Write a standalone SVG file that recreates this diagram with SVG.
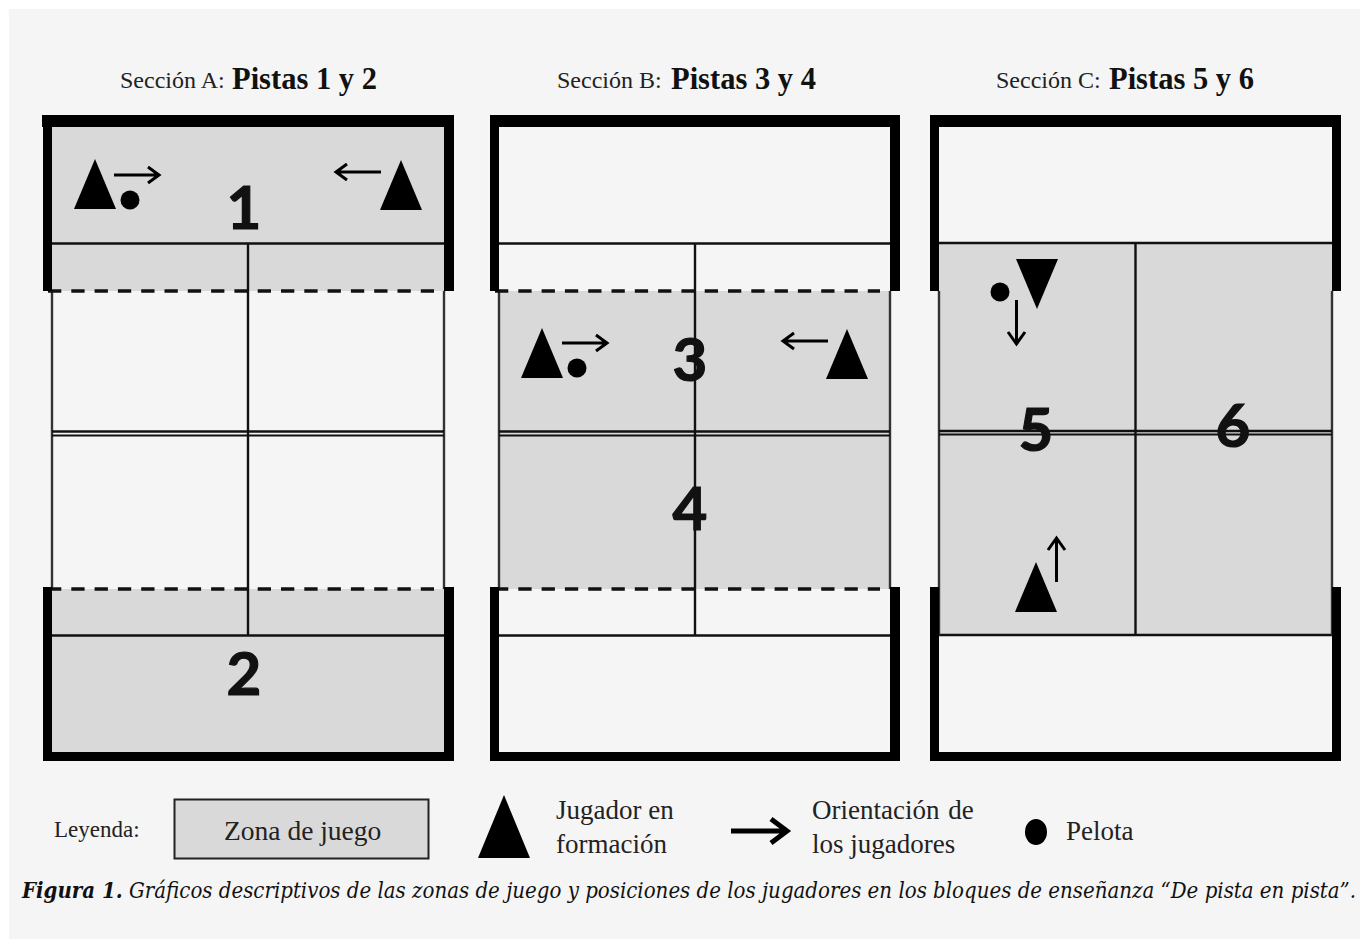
<svg xmlns="http://www.w3.org/2000/svg" width="1360" height="940" viewBox="0 0 1360 940">
<style>
.t{font-family:"Liberation Serif","Times New Roman",serif;fill:#222}
.s{font-size:24px}.h{font-size:30.500px;font-weight:bold;fill:#111}.l{font-size:27px}
.n{font-family:Lato,"Noto Sans",sans-serif;font-weight:bold;font-size:60px;fill:#111;stroke:#111;stroke-width:1.200px;text-anchor:middle}
.thin{stroke:#111;stroke-width:2.400;fill:none}
.net{stroke:#111;fill:none}
.side{stroke:#333;stroke-width:2.400;fill:none}
.dash{stroke:#111;stroke-width:3.500;stroke-dasharray:13.300 10;fill:none}
.z{fill:#d9d9d9}
.a{stroke:#000;stroke-width:3;fill:none}
.c{font-family:"DejaVu Serif",serif;font-style:italic;font-size:22px;fill:#111;font-stretch:condensed}
</style>
<defs>
<path id="tri" d="M0 0L21 50H-21Z" fill="#000"/>
<path id="arr" d="M0 0H45M34-8L45 0 34 8" class="a"/>
</defs>
<rect width="1360" height="940" fill="#fff"/>
<rect x="9" y="9" width="1351" height="930" fill="#f5f5f5"/>

<g id="titulos">
<text class="t s" x="120" y="88">Sección A:</text><text class="t h" x="232" y="89">Pistas 1 y 2</text>
<text class="t s" x="557" y="88">Sección B:</text><text class="t h" x="671" y="89">Pistas 3 y 4</text>
<text class="t s" x="996" y="88">Sección C:</text><text class="t h" x="1109" y="89">Pistas 5 y 6</text>
</g>

<g id="pista-a">
<rect class="z" x="52" y="127" width="392" height="164"/>
<rect class="z" x="52" y="589" width="392" height="163"/>
<path class="thin" d="M52 243.500H444M52 635.500H444M248 243V635"/>
<path class="side" d="M52 291V589M444 291V589"/>
<path class="net" stroke-width="2.600" d="M52 431.500H444"/><path class="net" stroke-width="2" d="M52 435.500H444"/>
<path class="dash" d="M48 291H434M48 589H434"/>
<path d="M42 115H454V291H444V127H52V291H43V127H42ZM43 587H52V752H444V587H454V761H43Z" fill="#000"/>
<use href="#tri" x="95" y="159"/><use href="#arr" x="114" y="175"/><circle cx="130" cy="200" r="9.500"/>
<use href="#tri" x="401" y="160"/><use href="#arr" transform="translate(381 172) scale(-1 1)"/>
<text class="n" x="244" y="229">1</text><text class="n" x="244" y="695">2</text>
</g>

<g id="pista-b">
<rect class="z" x="499" y="291" width="391" height="298"/>
<path class="thin" d="M499 243.500H890M499 635.500H890M695 243V635"/>
<path class="side" d="M499 291V589M890 291V589"/>
<path class="net" stroke-width="2.600" d="M499 431.500H890"/><path class="net" stroke-width="2" d="M499 435.500H890"/>
<path class="dash" d="M495 291H880M495 589H880"/>
<path d="M490 115H900V291H890V127H499V291H490ZM490 587H499V752H890V587H900V761H490Z" fill="#000"/>
<use href="#tri" x="542" y="328"/><use href="#arr" x="562" y="343"/><circle cx="577" cy="368" r="9.500"/>
<use href="#tri" x="847" y="329"/><use href="#arr" transform="translate(828 341) scale(-1 1)"/>
<text class="n" x="690" y="381">3</text><text class="n" x="690" y="530">4</text>
</g>

<g id="pista-c">
<rect class="z" x="939" y="243" width="393" height="392"/>
<path class="thin" d="M939 243H1332M939 635H1332M1135.500 243V635"/>
<path class="side" d="M939 291V635M1332 291V635"/>
<path class="net" stroke-width="2.600" d="M939 431H1332"/><path class="net" stroke-width="2" d="M939 434.500H1332"/>
<path d="M930 115H1341V291H1332V127H939V291H930ZM930 587H939V752H1332V587H1341V761H930Z" fill="#000"/>
<path d="M1016 259H1058L1037 309Z"/><circle cx="1000" cy="292" r="9.500"/>
<path class="a" d="M1016.500 300V344M1008 332L1016.500 344 1025 332"/>
<use href="#tri" x="1036" y="562"/>
<path class="a" d="M1056.500 582V538M1048 550L1056.500 538 1065 550"/>
<text class="n" x="1036" y="451">5</text><text class="n" x="1233" y="447">6</text>
</g>

<g id="leyenda">
<text class="t" x="54" y="837" font-size="23">Leyenda:</text>
<rect x="174.500" y="799.500" width="254" height="59" fill="#d9d9d9" stroke="#222" stroke-width="2"/>
<text class="t" font-size="27.500" x="224" y="840">Zona de juego</text>
<path d="M504 795L530 858H478Z"/>
<text class="t l" x="556" y="819">Jugador en</text><text class="t l" x="556" y="853">formación</text>
<path d="M731 831H786M771 819L787 831 771 843" fill="none" stroke="#000" stroke-width="5"/>
<text class="t l" x="812" y="819" word-spacing="2">Orientación de</text><text class="t l" x="812" y="853">los jugadores</text>
<ellipse cx="1036" cy="832" rx="11" ry="13"/>
<text class="t l" x="1066" y="840">Pelota</text>
</g>

<text class="c" x="22" y="898"><tspan font-weight="bold">Figura 1.</tspan><tspan x="129" textLength="1227" lengthAdjust="spacing">Gráficos descriptivos de las zonas de juego y posiciones de los jugadores en los bloques de enseñanza “De pista en pista”.</tspan></text>
</svg>
